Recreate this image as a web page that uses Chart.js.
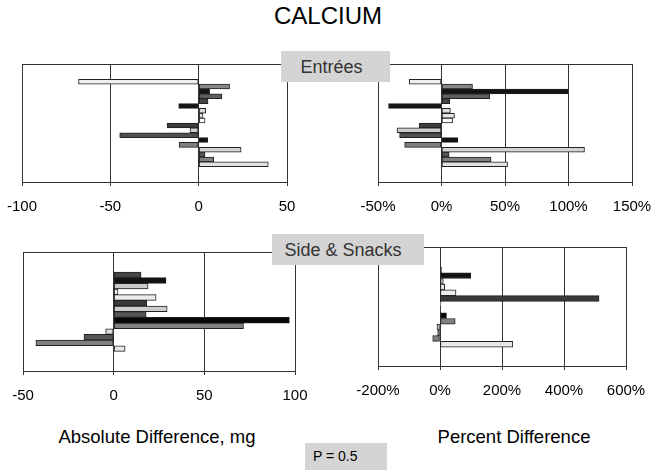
<!DOCTYPE html>
<html>
<head>
<meta charset="utf-8">
<script src="https://cdn.jsdelivr.net/npm/chart.js@4/dist/chart.umd.min.js"></script>
<style>
  body { margin: 0; background: #fff; }
  #wrap { position: relative; width: 652px; height: 471px; overflow: hidden; font-family: 'Liberation Sans', Arial, sans-serif; }
  canvas { position: absolute; }
  .lbl { position: absolute; white-space: nowrap; color: #000; text-align: center; }
  .tag { position: absolute; background: #d4d4d4; color: #333; box-sizing: border-box; white-space: nowrap; z-index: 5; }
</style>
</head>
<body>
<div id="wrap">
  <div class="lbl" style="left:228px; top:4px; width:200px; font-size:24px; line-height:24px;">CALCIUM</div>

  <canvas id="chartEntreeAbs" width="337" height="164" style="left:-14px; top:60px;"></canvas>
  <canvas id="chartEntreePct" width="326" height="164" style="left:342px; top:60px;"></canvas>
  <canvas id="chartSideAbs" width="344" height="165" style="left:-13px; top:248px;"></canvas>
  <canvas id="chartSidePct" width="320" height="165" style="left:342px; top:243px;"></canvas>

  <div class="tag" style="left:281px; top:51px; width:109px; height:31px; padding:2px 8px 0 0; line-height:29px; font-size:18px; text-align:center;">Entrées</div>
  <div class="tag" style="left:272px; top:234px; width:152px; height:31px; padding:2px 10px 0 0; line-height:29px; font-size:18px; text-align:center;">Side &amp; Snacks</div>

  <div class="lbl" style="left:57px; top:425px; width:200px; font-size:18.5px; line-height:24px;">Absolute Difference, mg</div>
  <div class="lbl" style="left:414px; top:425px; width:200px; font-size:18.5px; line-height:24px;">Percent Difference</div>
  <div class="tag" style="left:305px; top:443px; width:82px; height:27px; padding-left:8px; line-height:26px; font-size:14px; color:#000;">P = 0.5</div>
</div>

<script>
// Entrées: one bar per menu item, top to bottom
const entreeItems = ['E1', 'E2', 'E3', 'E4', 'E5', 'E6', 'E7', 'E8', 'E9', 'E10', 'E11', 'E12', 'E13', 'E14', 'E15', 'E16', 'E17', 'E18'];
const entreeAbs = [-68, 17.5, 6.2, 13.2, 5.3, -11.3, 4, 2.5, 3.6, -17.9, -4.9, -44.7, 5.1, -11.1, 24, 3.6, 8.5, 39.4];
const entreePct = [-25.4, 24.4, 99.5, 38, 6.6, -41.7, 7, 10.2, 8.7, -17.6, -35, -33, 12.9, -29, 112.6, 6, 39, 52];

// Side & Snacks
const sideItems = ['S1', 'S2', 'S3', 'S4', 'S5', 'S6', 'S7', 'S8', 'S9', 'S10', 'S11', 'S12', 'S13', 'S14'];
const sideAbs = [15.1, 28.9, 19, 2.4, 23.4, 18.2, 29.5, 17.9, 96.9, 71.6, -4.4, -16.4, -42.9, 6.3];
const sidePct = [5, 99, 10.7, 15, 51.6, 513, 3, 2, 21, 49, -9.7, -7.5, -23.5, 235];

// Axis ticks
const absTicksTop = [-100, -50, 0, 50];
const pctTicksTop = [-50, 0, 50, 100, 150];
const absTicksBottom = [-50, 0, 50, 100];
const pctTicksBottom = [-200, 0, 200, 400, 600];

// Fill shades of the bars
const entreeColors = ['#eeeeee', '#878787', '#141414', '#5e5e5e', '#444444', '#141414', '#dddddd', '#e4e4e4', '#ffffff',
    '#3c3c3c', '#cccccc', '#505050', '#111111', '#7f7f7f', '#d2d2d2', '#555555', '#808080', '#e2e2e2'];
const sideColors = ['#454545', '#121212', '#c8c8c8', '#eeeeee', '#ececec', '#3a3a3a', '#cdcdcd', '#555555',
    '#050505', '#808080', '#dddddd', '#555555', '#808080', '#e8e8e8'];

Chart.defaults.font.family = "'Liberation Sans', Arial, sans-serif";
Chart.defaults.font.size = 15;
Chart.defaults.color = '#000';

// draws the box around the plot area
const framePlugin = {
    id: 'frame',
    beforeDatasetsDraw(chart) {
        const { ctx, chartArea: a } = chart;
        ctx.save();
        ctx.strokeStyle = '#333';
        ctx.lineWidth = 1;
        ctx.strokeRect(Math.round(a.left) + 0.5, Math.round(a.top) + 0.5, Math.round(a.right - a.left), Math.round(a.bottom - a.top));
        ctx.restore();
    }
};

// side padding is wide enough to hold the tick labels, so the plot box lands where we want it
const sidePad = { left: 36, right: 36, top: 4, bottom: 2 };

const createChart = (id, items, values, colors, ticks, unit, gapTop, gapBottom) => {
    const ctx = document.getElementById(id).getContext('2d');
    return new Chart(ctx, {
        type: 'bar',
        data: {
            labels: items,
            datasets: [{
                data: values.map((v, i) => ({ x: v, y: i })),
                backgroundColor: colors,
                borderColor: '#222',
                borderWidth: 1,
                borderSkipped: false,
                barPercentage: 1,
                categoryPercentage: 1
            }]
        },
        options: {
            indexAxis: 'y',
            responsive: false,
            animation: false,
            layout: { padding: sidePad },
            plugins: {
                legend: { display: false },
                tooltip: { enabled: false }
            },
            scales: {
                y: {
                    type: 'linear',
                    reverse: true,
                    display: false,
                    min: -gapTop,
                    max: items.length - 1 + gapBottom
                },
                x: {
                    type: 'linear',
                    min: ticks[0],
                    max: ticks[ticks.length - 1],
                    afterBuildTicks: (scale) => { scale.ticks = ticks.map(v => ({ value: v })); },
                    afterFit: (scale) => { scale.height = 40; },
                    grid: { color: '#333', lineWidth: 1, tickLength: 4 },
                    border: { color: '#000', width: 1 },
                    ticks: {
                        padding: 12,
                        color: '#000',
                        callback: (v) => v + unit
                    }
                }
            }
        },
        plugins: [framePlugin]
    });
};

createChart('chartEntreeAbs', entreeItems, entreeAbs, entreeColors, absTicksTop, '', 1.21, 1.21);
createChart('chartEntreePct', entreeItems, entreePct, entreeColors, pctTicksTop, '%', 1.21, 1.21);
createChart('chartSideAbs', sideItems, sideAbs, sideColors, absTicksBottom, '', 1.4, 1.33);
createChart('chartSidePct', sideItems, sidePct, sideColors, pctTicksBottom, '%', 1.4, 1.2);
</script>
</body>
</html>
